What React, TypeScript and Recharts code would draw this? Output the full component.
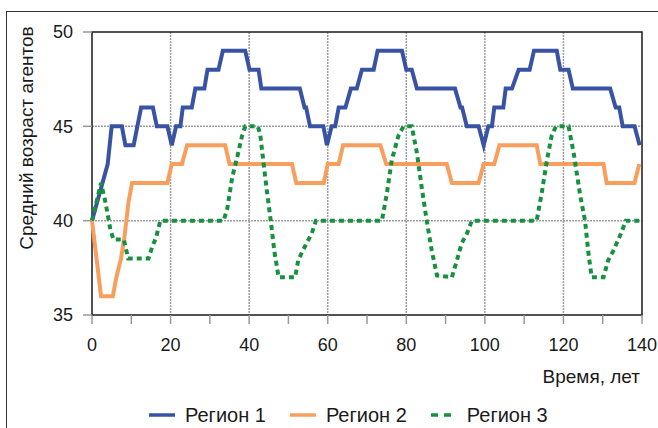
import React from 'react';
import { LineChart, Line, XAxis, YAxis, CartesianGrid, ReferenceArea, Legend } from 'recharts';

// [год, средний возраст] – точки излома каждой кривой
const region1: [number, number][] = [
  [0, 40], [4, 43], [5, 45], [7.6, 45], [8.5, 44], [10.6, 44], [12.5, 46], [15.5, 46], [16.5, 45], [19.2, 45],
  [20.3, 44], [21.4, 45], [22.5, 45], [23.1, 46], [25.4, 46], [26.3, 47], [28.6, 47], [29.4, 48], [32.2, 48],
  [33.3, 49], [39, 49], [40.1, 48], [42.4, 48], [43.1, 47], [52.9, 47], [54.1, 46], [54.5, 46], [55.5, 45],
  [58.9, 45], [59.8, 44], [61, 45], [61.9, 45], [62.8, 46], [64.5, 46], [65.9, 47], [67.4, 47], [68.7, 48],
  [71.7, 48], [72.7, 49], [78.9, 49], [80, 48], [81.4, 48], [82.7, 47], [92.4, 47], [93.8, 46], [94.2, 46],
  [95.4, 45], [98.4, 45], [99.7, 44], [100.9, 45], [101.8, 45], [102.4, 46], [104.7, 46], [105.3, 47],
  [106.9, 47], [108.6, 48], [111.4, 48], [112.5, 49], [118.3, 49], [119.2, 48], [121.3, 48], [122.4, 47],
  [131.9, 47], [133.3, 46], [134.2, 46], [135.1, 45], [138.1, 45], [139.4, 44],
];

const region2: [number, number][] = [
  [0, 40], [2.3, 36], [5.3, 36], [6.2, 37], [7.4, 38], [8.3, 39.2], [9.3, 41], [10.2, 42], [19.2, 42],
  [20.3, 43], [22.9, 43], [24.2, 44], [33.9, 44], [35, 43], [50.9, 43], [52, 42], [59, 42], [60, 43],
  [62.8, 43], [63.9, 44], [73.4, 44], [74.9, 43], [90.3, 43], [91.6, 42], [98.4, 42], [99.7, 43],
  [102.4, 43], [103.7, 44], [113.2, 44], [114.1, 43], [130.2, 43], [131, 42], [138.1, 42], [139.3, 43],
];

const region3: [number, number][] = [
  [0, 40], [2.3, 42], [3.5, 40.9], [4.7, 39.5], [5.5, 39], [8.1, 39], [9.2, 38], [14.4, 38], [15.3, 38.6],
  [16.3, 39.1], [17.4, 40], [33.5, 40], [34.4, 40.6], [35.7, 42.3], [37, 43.4], [38.2, 44.5], [39, 45],
  [42.2, 45], [42.8, 44.6], [43.7, 43], [44.5, 41.6], [45.5, 40], [46.4, 38.4], [47.5, 37], [51.7, 37],
  [52.5, 37.9], [53.4, 38.3], [54.6, 38.8], [55.9, 39.3], [57, 40], [73.8, 40], [75.1, 41.5], [76.3, 43.2],
  [78, 44.5], [79.3, 45], [81.4, 45], [82.7, 43.6], [83.9, 41.8], [85.2, 40], [86.5, 38.4], [87.8, 37.1],
  [91.6, 37], [92.9, 37.9], [94.1, 38.8], [95.4, 39.3], [96.7, 40], [113.2, 40], [114.5, 41.5],
  [115.8, 43.2], [117, 44.5], [118.1, 45], [121.3, 45], [122.6, 43.6], [124.3, 41.3], [125.5, 40],
  [126.4, 38.2], [127.2, 37], [130.2, 37], [131.4, 37.9], [132.7, 38.4], [134.4, 39.2], [135.9, 40], [140, 40],
];

const seriesNames = ['Регион 1', 'Регион 2', 'Регион 3'];
const xTicks = [0, 10, 20, 30, 40, 50, 60, 70, 80, 90, 100, 110, 120, 130, 140];
const xGrid = [20, 40, 60, 80, 100, 120];
const yTicks = [35, 40, 45, 50];
const yGrid = [40, 45];

const FONT = '"Liberation Sans", Arial, sans-serif';
const TEXT = '#1a1a1a';
const COLORS = ['#3953a4', '#f99f5e', '#17913f'];
const DASHES = [undefined, undefined, '5 4'];

const toPoints = (pairs: [number, number][]) => pairs.map(([x, y]) => ({ x, y }));
const series = [region1, region2, region3].map(toPoints);

const renderYLabel = (props: any) => {
  const vb = props.viewBox;
  const cx = vb.x + 26;
  const cy = vb.y + 106;
  return (
    <text x={cx} y={cy} transform={`rotate(-90, ${cx}, ${cy})`} textAnchor="middle" dominantBaseline="central"
      fontSize={19} fill={TEXT} fontFamily={FONT}>
      Средний возраст агентов
    </text>
  );
};

const renderXLabel = (props: any) => {
  const vb = props.viewBox;
  return (
    <text x={vb.x + vb.width - 2} y={vb.y + 68} textAnchor="end" fontSize={19} fill={TEXT} fontFamily={FONT}>
      Время, лет
    </text>
  );
};

const renderLegend = () => (
  <div style={{ display: 'flex', alignItems: 'center', height: 26, marginLeft: 149, fontFamily: FONT, fontSize: 20, color: TEXT }}>
    {seriesNames.map((name, i) => (
      <div key={name} style={{ display: 'flex', alignItems: 'center', marginRight: 24 }}>
        <svg width={26} height={6} style={{ marginRight: 10 }}>
          <line x1={0} y1={3} x2={26} y2={3} stroke={COLORS[i]} strokeWidth={3.5}
            strokeDasharray={DASHES[i] ? '7 6' : undefined} />
        </svg>
        <span style={{ whiteSpace: 'nowrap' }}>{name}</span>
      </div>
    ))}
  </div>
);

export default function App() {
  return (
    <div style={{ position: 'relative', width: 658, height: 428, overflow: 'hidden', background: '#fff' }}>
      <style>{'body{margin:0;overflow:hidden}'}</style>
      <div style={{ position: 'absolute', left: 6, top: 11, right: 0, bottom: 0, borderLeft: '1.5px solid #333', borderTop: '1.5px solid #333' }} />
      <LineChart width={658} height={428} margin={{ top: 32, right: 16, left: 0, bottom: 0 }} style={{ fontFamily: FONT }}>
        <CartesianGrid stroke="#9c9c9c" strokeWidth={1.5} strokeDasharray="2 1"
          verticalValues={xGrid} horizontalValues={yGrid} />
        <XAxis dataKey="x" type="number" domain={[0, 140]} ticks={xTicks} allowDecimals
          tickFormatter={(v: number) => (v % 20 === 0 ? String(v) : '')}
          height={87} axisLine={false} tickSize={9} tickMargin={14}
          tickLine={{ stroke: '#999', strokeWidth: 1.5 }}
          tick={{ fontSize: 18, fill: TEXT, fontFamily: FONT }}
          label={renderXLabel} />
        <YAxis type="number" domain={[35, 50]} ticks={yTicks} width={92} axisLine={false}
          tickSize={9} tickMargin={10} tickLine={{ stroke: '#999', strokeWidth: 1.5 }}
          tick={{ fontSize: 18, fill: TEXT, fontFamily: FONT }}
          label={renderYLabel} />
        <ReferenceArea x1={0} x2={140} y1={35} y2={50} fill="none" fillOpacity={0} stroke="#1a1a1a" strokeWidth={1.5} />
        {series.map((pts, i) => (
          <Line key={seriesNames[i]} data={pts} dataKey="y" name={seriesNames[i]} type="linear"
            stroke={COLORS[i]} strokeWidth={4} strokeDasharray={DASHES[i]} dot={false}
            activeDot={false} isAnimationActive={false} />
        ))}
        <Legend verticalAlign="bottom" height={26} content={renderLegend} />
      </LineChart>
    </div>
  );
}
